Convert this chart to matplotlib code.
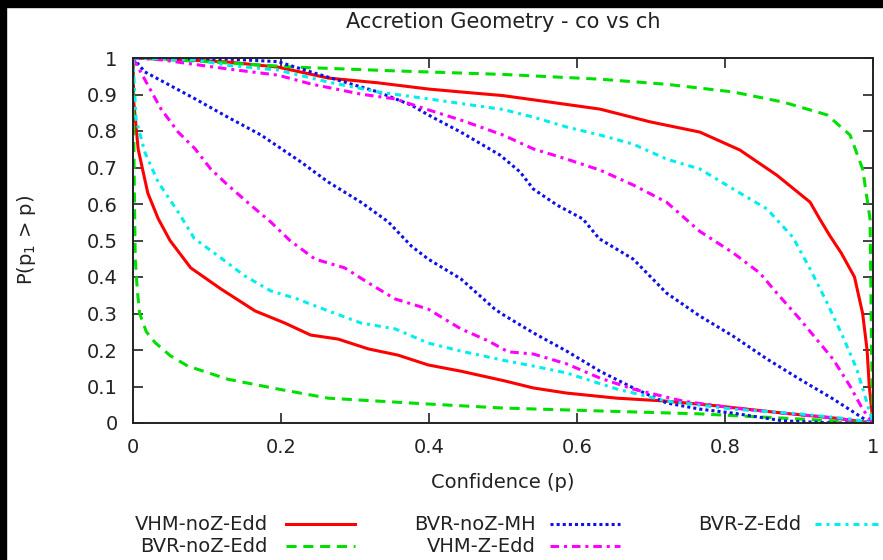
import matplotlib
matplotlib.use("Agg")
import matplotlib.pyplot as plt
from matplotlib.lines import Line2D
from matplotlib.patches import Rectangle

plt.rcParams['font.family'] = ['DejaVu Sans']

# VHM-noZ-Edd (red) - lower and upper branch
red_lo_x = [0, 0.001, 0.007, 0.02, 0.034, 0.05, 0.078, 0.119, 0.165, 0.205, 0.24, 0.277, 0.318, 0.358,
            0.399, 0.443, 0.503, 0.541, 0.586, 0.654, 0.721, 0.789, 0.879, 0.946, 1.0]
red_lo_y = [1.0, 0.88, 0.75, 0.63, 0.56, 0.50, 0.425, 0.367, 0.307, 0.274, 0.241, 0.23, 0.203, 0.186,
            0.159, 0.142, 0.115, 0.096, 0.082, 0.068, 0.06, 0.047, 0.027, 0.014, 0.0]
red_hi_x = [0, 0.05, 0.128, 0.196, 0.264, 0.331, 0.399, 0.443, 0.5, 0.564, 0.631, 0.699, 0.766, 0.82,
            0.87, 0.915, 0.928, 0.942, 0.957, 0.975, 0.986, 0.992, 0.995, 1.0]
red_hi_y = [1.0, 0.997, 0.989, 0.975, 0.945, 0.932, 0.915, 0.907, 0.897, 0.879, 0.86, 0.825, 0.797, 0.748,
            0.679, 0.605, 0.559, 0.512, 0.466, 0.4, 0.3, 0.2, 0.1, 0.0]

# BVR-noZ-Edd (green)
green_lo_x = [0, 0.001, 0.002, 0.003, 0.006, 0.009, 0.018, 0.03, 0.05, 0.074, 0.128, 0.196, 0.264,
              0.331, 0.399, 0.5, 0.631, 0.766, 0.901, 1.0]
green_lo_y = [1.0, 0.8, 0.6, 0.45, 0.36, 0.30, 0.25, 0.22, 0.185, 0.156, 0.12, 0.093, 0.068,
              0.06, 0.052, 0.041, 0.033, 0.025, 0.011, 0.0]
green_hi_x = [0, 0.05, 0.1, 0.219, 0.35, 0.5, 0.631, 0.721, 0.811, 0.879, 0.938, 0.969, 0.986, 0.996,
              0.997, 0.998, 1.0]
green_hi_y = [1.0, 0.995, 0.99, 0.975, 0.965, 0.955, 0.942, 0.928, 0.907, 0.879, 0.844, 0.789, 0.696, 0.559,
              0.4, 0.2, 0.0]

# BVR-noZ-MH (blue)
blue_lo_x = [0, 0.016, 0.084, 0.128, 0.173, 0.227, 0.264, 0.308, 0.345, 0.376, 0.399, 0.443, 0.489,
             0.5, 0.541, 0.586, 0.631, 0.676, 0.721, 0.766, 0.811, 0.878, 0.946, 1.0]
blue_lo_y = [1.0, 0.962, 0.888, 0.838, 0.789, 0.715, 0.66, 0.605, 0.551, 0.485, 0.449, 0.395, 0.312,
             0.297, 0.247, 0.197, 0.142, 0.096, 0.055, 0.038, 0.027, 0.006, 0.0, 0.0]
blue_hi_x = [0, 0.128, 0.196, 0.24, 0.286, 0.331, 0.376, 0.399, 0.443, 0.496, 0.523, 0.541, 0.573,
             0.608, 0.63, 0.676, 0.721, 0.766, 0.811, 0.857, 0.901, 0.946, 0.992, 1.0]
blue_hi_y = [1.0, 0.997, 0.99, 0.962, 0.934, 0.907, 0.871, 0.844, 0.797, 0.734, 0.688, 0.641, 0.597,
             0.559, 0.505, 0.449, 0.356, 0.293, 0.238, 0.175, 0.12, 0.066, 0.006, 0.0]

# VHM-Z-Edd (magenta)
mag_lo_x = [0, 0.02, 0.038, 0.061, 0.084, 0.105, 0.128, 0.159, 0.186, 0.212, 0.246, 0.286, 0.318, 0.354,
            0.399, 0.443, 0.48, 0.507, 0.541, 0.586, 0.631, 0.676, 0.743, 0.811, 0.878, 0.946, 1.0]
mag_lo_y = [1.0, 0.926, 0.86, 0.797, 0.751, 0.696, 0.652, 0.597, 0.551, 0.5, 0.449, 0.425, 0.384, 0.34,
            0.312, 0.258, 0.225, 0.195, 0.189, 0.162, 0.123, 0.093, 0.06, 0.041, 0.027, 0.014, 0.0]
mag_hi_x = [0, 0.038, 0.128, 0.196, 0.24, 0.308, 0.354, 0.399, 0.443, 0.5, 0.541, 0.586, 0.631, 0.676,
            0.721, 0.766, 0.811, 0.847, 0.87, 0.901, 0.928, 0.946, 0.969, 0.986, 1.0]
mag_hi_y = [1.0, 0.995, 0.97, 0.953, 0.929, 0.901, 0.888, 0.858, 0.83, 0.789, 0.751, 0.723, 0.693, 0.652,
            0.605, 0.525, 0.466, 0.411, 0.356, 0.285, 0.219, 0.175, 0.101, 0.038, 0.0]

# BVR-Z-Edd (cyan)
cyan_lo_x = [0, 0.004, 0.016, 0.034, 0.061, 0.083, 0.115, 0.151, 0.186, 0.219, 0.264, 0.308, 0.354,
             0.399, 0.443, 0.5, 0.541, 0.586, 0.654, 0.721, 0.811, 0.901, 0.969, 1.0]
cyan_lo_y = [1.0, 0.833, 0.742, 0.66, 0.578, 0.505, 0.458, 0.403, 0.362, 0.342, 0.307, 0.274, 0.258,
             0.219, 0.197, 0.172, 0.156, 0.137, 0.093, 0.06, 0.038, 0.025, 0.011, 0.0]
cyan_hi_x = [0, 0.084, 0.128, 0.196, 0.264, 0.331, 0.399, 0.5, 0.541, 0.586, 0.631, 0.676, 0.721,
             0.766, 0.811, 0.857, 0.892, 0.915, 0.938, 0.959, 0.978, 0.992, 1.0]
cyan_hi_y = [1.0, 0.995, 0.98, 0.967, 0.934, 0.907, 0.888, 0.859, 0.838, 0.811, 0.789, 0.764, 0.723,
             0.696, 0.641, 0.586, 0.508, 0.422, 0.329, 0.238, 0.148, 0.055, 0.0]

labels = ["VHM-noZ-Edd", "BVR-noZ-Edd", "BVR-noZ-MH", "VHM-Z-Edd", "BVR-Z-Edd"]
colors = ["#ff0000", "#00e000", "#1010e8", "#ff00ff", "#00eeee"]
styles = ["-", (0, (3.3, 2.2)), (0, (1, 1)), (0, (2.8, 1.6, 1, 1.6)), (0, (2.0, 1.6, 1, 1.6))]
curves = [
    (red_lo_x, red_lo_y, red_hi_x, red_hi_y),
    (green_lo_x, green_lo_y, green_hi_x, green_hi_y),
    (blue_lo_x, blue_lo_y, blue_hi_x, blue_hi_y),
    (mag_lo_x, mag_lo_y, mag_hi_x, mag_hi_y),
    (cyan_lo_x, cyan_lo_y, cyan_hi_x, cyan_hi_y),
]

W, H = 883, 560
txt = "#222222"
fig = plt.figure(figsize=(W / 100, H / 100), dpi=100)
ax = fig.add_axes([133 / W, 1 - 423 / H, 740 / W, 365 / H])

lw = 2.2
for (lx, ly, hx, hy), c, ls in zip(curves, colors, styles):
    ax.plot(lx, ly, color=c, ls=ls, lw=lw)
    ax.plot(hx, hy, color=c, ls=ls, lw=lw)

ax.set_xlim(0, 1)
ax.set_ylim(0, 1)
ax.set_xticks([0, 0.2, 0.4, 0.6, 0.8, 1])
ax.set_xticklabels(["0", "0.2", "0.4", "0.6", "0.8", "1"])
ax.set_yticks([i / 10 for i in range(11)])
ax.set_yticklabels(["0"] + [f"0.{i}" for i in range(1, 10)] + ["1"])
ax.tick_params(direction="in", length=7, width=1.2, top=True, right=True,
               labelsize=14, colors=txt, pad=11)
for s in ax.spines.values():
    s.set_linewidth(1.4)
    s.set_color(txt)

fig.text(503 / W, 1 - 482 / H, "Confidence (p)", ha="center", va="center", fontsize=14, color=txt)
fig.text(27 / W, 1 - 240 / H, "P(p$_1$ > p)", ha="center", va="center", rotation=90,
         fontsize=14, color=txt)
fig.text(503 / W, 1 - 22 / H, "Accretion Geometry - co vs ch", ha="center", va="center",
         fontsize=15, color=txt)

# legend, gnuplot style: text then sample line
leg_text_x = [268, 536, 801]
leg_line_x = [(286, 355), (550, 620), (815, 890)]
leg_rows = [524, 546]
for i, (lab, c, ls) in enumerate(zip(labels, colors, styles)):
    col, row = i // 2, i % 2
    y = 1 - leg_rows[row] / H
    fig.text(leg_text_x[col] / W, y, lab, ha="right", va="center", fontsize=14, color=txt)
    x0, x1 = leg_line_x[col]
    fig.add_artist(Line2D([x0 / W, x1 / W], [y, y], transform=fig.transFigure,
                          color=c, ls=ls, lw=lw))

# black frame strips at top and left edge of the screenshot
fig.add_artist(Rectangle((0, 1 - 7 / H), 1, 7 / H, transform=fig.transFigure, color="black", zorder=10))
fig.add_artist(Rectangle((0, 0), 6 / W, 1, transform=fig.transFigure, color="black", zorder=10))

fig.savefig("out.png", dpi=100)
